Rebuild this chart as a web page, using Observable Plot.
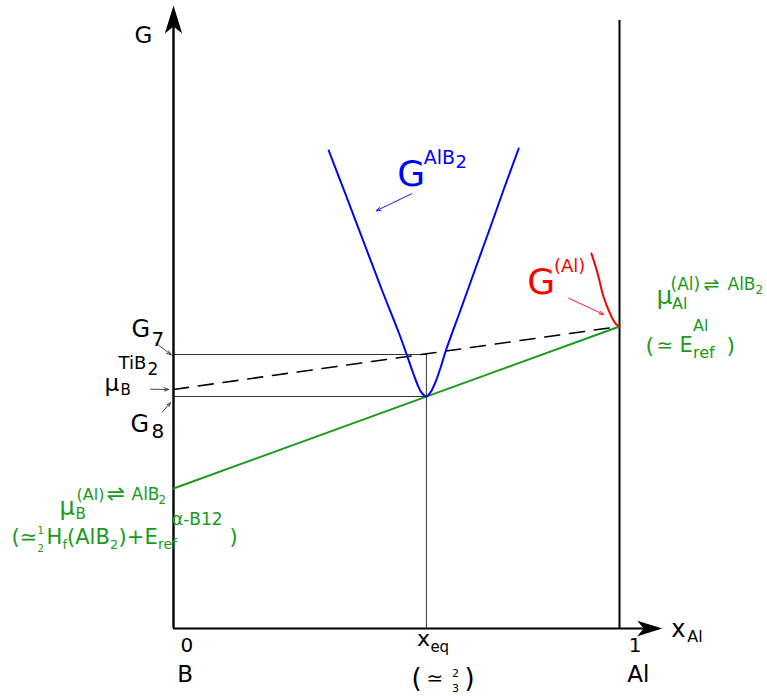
<!DOCTYPE html>
<html>
<head>
<meta charset="utf-8">
<script src="https://cdn.jsdelivr.net/npm/d3@7"></script>
<script src="https://cdn.jsdelivr.net/npm/@observablehq/plot@0.6"></script>
<style>
  html, body { margin: 0; padding: 0; background: #fff; }
  #chart svg { display: block; }
</style>
</head>
<body>
<div id="chart"></div>
<script>
// Schematic free-energy diagram G(x_Al) for the B–Al system near AlB2.

// Composition of AlB2 equilibrium point (x_Al)
const xEq = 0.567;

// Energy levels on the boron side (arbitrary units)
const G7 = 2.74;
const G8 = 2.32;
const muB_TiB2 = 2.39;

// Common tangent (AlB2 ⇌ (Al)): chemical potentials at x = 0 and x = 1
const muB_eq = 1.40;
const muAl_eq = 3.02;

// G of the AlB2 phase
const xAlB2 = [0.348, 0.386, 0.426, 0.466, 0.505, 0.522, 0.536, 0.547, 0.556, 0.567,
               0.576, 0.587, 0.599, 0.610, 0.644, 0.677, 0.711, 0.742, 0.774];
const gAlB2 = [4.78, 4.34, 3.87, 3.40, 2.96, 2.75, 2.57, 2.44, 2.36, 2.32,
               2.36, 2.46, 2.61, 2.77, 3.19, 3.60, 4.02, 4.41, 4.80];

// G of the (Al) phase near pure Al
const xAlPhase = [0.937, 0.951, 0.964, 0.975, 0.984, 0.993, 1.0];
const gAlPhase = [3.75, 3.55, 3.32, 3.19, 3.10, 3.04, 3.02];

// Axis extents
const yAxisTop = 6.23;
const xAxisEnd = 1.096;
const alLineTop = 6.08;

const green = "#1a9a1a";
const font = "DejaVu Sans";

const tangent = [{x: 0, g: muB_eq}, {x: 1, g: muAl_eq}];
const dashedTangent = [{x: 0, g: muB_TiB2}, {x: 1, g: muAl_eq}];
const alb2 = xAlB2.map((x, i) => ({x, g: gAlB2[i]}));
const alPhase = xAlPhase.map((x, i) => ({x, g: gAlPhase[i]}));

// Pointer arrows (data units)
const pointers = [
  {x1: -0.0404, y1: 2.857, x2: -0.0052, y2: G7 - 0.003, c: "#333"},
  {x1: -0.0516, y1: muB_TiB2 + 0.003, x2: -0.0105, y2: muB_TiB2, c: "#333"},
  {x1: -0.0253, y1: 2.163, x2: -0.0067, y2: 2.257, c: "#333"},
  {x1: 0.5336, y1: 4.347, x2: 0.4545, y2: 4.177, c: "#0000ff"},
  {x1: 0.8863, y1: 3.303, x2: 0.9648, y2: 3.140, c: "#ff0000"}
];

// Filled "stealth" arrowhead with its tip at the origin, pointing up
const stealth = {
  draw(context, size) {
    const s = Math.sqrt(size / Math.PI);
    context.moveTo(0, 0);
    context.lineTo(0.62 * s, 2 * s);
    context.lineTo(0, 1.5 * s);
    context.lineTo(-0.62 * s, 2 * s);
    context.closePath();
  }
};

// A label built of text pieces, each offset in pixels from an anchor point
function label(anchor, color, parts) {
  return parts.map(([t, dx, dy, size]) =>
    Plot.text([anchor], {
      x: (d) => d[0], y: (d) => d[1], text: () => t,
      dx, dy, fontSize: size, fill: color,
      textAnchor: "start", lineAnchor: "bottom", fontFamily: font
    })
  );
}

const labels = [
  ...label([0, yAxisTop], "black", [["G", -39, 37, 23]]),
  ...label([0, G7], "black", [["G", -42, -17.5, 24], ["7", -22, -9, 20]]),
  ...label([0, muB_TiB2], "black", [
    ["TiB", -55, -20.5, 18], ["2", -26, -14.5, 17],
    ["μ", -69, 1.5, 23], ["B", -53, 5, 15]
  ]),
  ...label([0, G8], "black", [["G", -43, 35.7, 24], ["8", -22, 41, 20]]),
  ...label([0, muB_eq], green, [
    ["(Al)", -97, 11.5, 16], ["⇌", -67, 12.5, 22], ["AlB", -42, 11.5, 17], ["2", -15, 15.5, 12],
    ["μ", -114, 26, 24], ["B", -98, 30.5, 15],
    ["(≃", -162, 55.5, 21],
    ["1", -136, 45, 10], ["2", -136, 63.5, 10],
    ["H", -127, 55.5, 21], ["f", -111, 60, 13],
    ["(AlB", -106.5, 55.5, 21], ["2", -63.5, 60, 13],
    [")+", -55, 55.5, 21], ["E", -29, 55.5, 21],
    ["ref", -15.5, 60.5, 14], ["α-B12", -1.5, 36, 17],
    [")", 56, 55.5, 21]
  ]),
  ...label([1, muAl_eq], green, [
    ["μ", 37, -22.3, 25], ["Al", 52.5, -17.7, 16],
    ["(Al)", 51, -37, 17], ["⇌", 84, -36, 19], ["AlB", 108, -37, 17], ["2", 136, -33, 12],
    ["(", 26, 26, 22], ["≃", 37, 25, 20], ["E", 60, 25.7, 21],
    ["ref", 73.5, 31, 16], ["Al", 73.5, 4, 16], [")", 107, 26, 22]
  ]),
  ...label([0.5336, 4.347], "#0000ff", [
    ["G", -14.3, -8.3, 36], ["AlB", 12.3, -29.8, 19], ["2", 44, -25.8, 18]
  ]),
  ...label([0.8863, 3.303], "#ff0000", [
    ["G", -41.6, -4.4, 36], ["(Al)", -14.8, -26.5, 18]
  ]),
  ...label([0, 0], "black", [["0", 7, 23.7, 20], ["B", 3.7, 53.7, 23]]),
  ...label([xEq, 0], "black", [
    ["x", -9.3, 17, 22], ["eq", 4, 23, 15],
    ["(", -15, 58.5, 26], ["≃", 0, 56, 20],
    ["2", 25.5, 48.5, 11], ["3", 25.5, 63, 11], [")", 38, 58.5, 26]
  ]),
  ...label([1, 0], "black", [["1", 9.3, 23.7, 20], ["Al", 7.7, 53.7, 23]]),
  ...label([xAxisEnd, 0], "black", [["x", 9, 8, 24], ["Al", 25, 13, 16]])
];

const chart = Plot.plot({
  width: 767,
  height: 698,
  marginLeft: 173,
  marginRight: 148,
  marginTop: 28,
  marginBottom: 70,
  x: {domain: [0, 1], axis: null},
  y: {domain: [0, 6], axis: null},
  style: {background: "white", fontFamily: font, overflow: "visible"},
  marks: [
    // construction lines
    Plot.ruleY([G7, G8], {x1: 0, x2: xEq, stroke: "#333", strokeWidth: 1}),
    Plot.ruleX([xEq], {y1: 0, y2: G7, stroke: "#333", strokeWidth: 1}),
    // pure-Al boundary
    Plot.ruleX([1], {y1: 0, y2: alLineTop, stroke: "black", strokeWidth: 2}),
    // axes
    Plot.ruleX([0], {y1: 0, y2: yAxisTop - 0.2, stroke: "black", strokeWidth: 2.4}),
    Plot.ruleY([0], {x1: 0, x2: xAxisEnd - 0.04, stroke: "black", strokeWidth: 2}),
    Plot.dot([[0, yAxisTop]], {x: (d) => d[0], y: (d) => d[1], symbol: stealth, r: 14, fill: "black", stroke: null}),
    Plot.dot([[xAxisEnd, 0]], {x: (d) => d[0], y: (d) => d[1], symbol: stealth, r: 12.5, rotate: 90, fill: "black", stroke: null}),
    // tangents
    Plot.line(dashedTangent, {x: "x", y: "g", stroke: "black", strokeWidth: 1.6, strokeDasharray: "15,10"}),
    Plot.line(tangent, {x: "x", y: "g", stroke: green, strokeWidth: 2}),
    // free-energy curves
    Plot.line(alb2, {x: "x", y: "g", stroke: "#0000ff", strokeWidth: 2, curve: "catmull-rom"}),
    Plot.line(alPhase, {x: "x", y: "g", stroke: "#ff0000", strokeWidth: 2, curve: "catmull-rom"}),
    // pointers
    Plot.arrow(pointers, {x1: "x1", y1: "y1", x2: "x2", y2: "y2", stroke: "c", strokeWidth: 0.9, headLength: 8, headAngle: 40}),
    ...labels
  ]
});

document.getElementById("chart").appendChild(chart);
</script>
</body>
</html>
